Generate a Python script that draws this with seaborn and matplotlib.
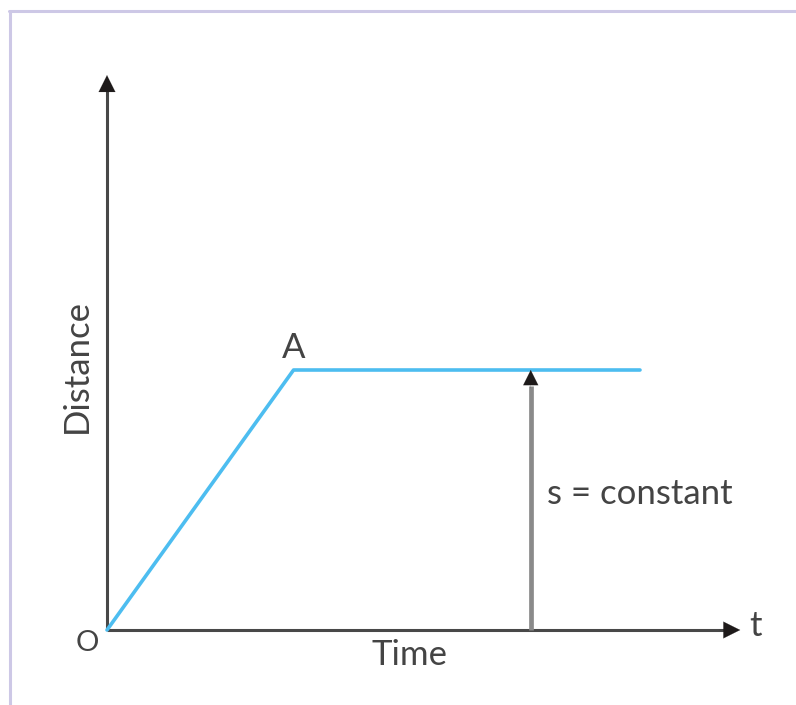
import matplotlib
matplotlib.use("Agg")
import matplotlib.pyplot as plt
import seaborn as sns
from matplotlib.lines import Line2D

sns.set_theme(style="white")
plt.rcParams['font.family'] = ['Lato', 'DejaVu Sans']

# distance-time graph: rises to A, then stays constant
time = [0, 3.5, 10]
distance = [0, 5, 5]
point_label = "A"
s_time = 7.95          # where the "s = constant" arrow stands
x_end, y_end = 11.88, 10.67  # axis arrow tips

fig = plt.figure(figsize=(7.96, 7.05), dpi=100)
ax = fig.add_axes([0, 0, 1, 1])
ax.set_xlim(-107 / 53.3, (796 - 107) / 53.3)
ax.set_ylim(-(705 - 630) / 52, 630 / 52)
ax.axis("off")

axis_col = "#484848"
head_col = "#1e1a1a"
txt_col = "#444444"

# axes: line, then black arrow head
ax.plot([0, x_end - 0.3], [0, 0], color=axis_col, lw=2.2, solid_capstyle="butt")
ax.plot([0, 0], [0, y_end - 0.3], color=axis_col, lw=2.2, solid_capstyle="butt")
head = dict(arrowstyle="-|>,head_length=1.0,head_width=0.5",
            color=head_col, lw=0.1, shrinkA=0, shrinkB=0)
ax.annotate("", xy=(x_end, 0), xytext=(x_end - 0.4, 0), arrowprops=head)
ax.annotate("", xy=(0, y_end), xytext=(0, y_end - 0.4), arrowprops=head)

# the graph
sns.lineplot(x=time, y=distance, ax=ax, color="#4dbdf0", lw=2.6, sort=False)

# s = constant arrow
ax.plot([s_time, s_time], [0, distance[-1] - 0.3], color="#8a8a8a", lw=3.4,
        solid_capstyle="butt")
ax.annotate("", xy=(s_time, distance[-1]), xytext=(s_time, distance[-1] - 0.35),
            arrowprops=dict(arrowstyle="-|>,head_length=0.9,head_width=0.45",
                            color=head_col, lw=0.1, shrinkA=0, shrinkB=0))

fs = 25
ax.text(time[1], distance[1] + 0.12, point_label, ha="center", va="bottom",
        fontsize=fs, color=txt_col)
ax.text(-0.36, -0.25, "O", ha="center", va="center", fontsize=fs - 4,
        color=txt_col)
ax.text((410 - 107) / 53.3, -0.48, "Time", ha="center", va="center",
        fontsize=fs, color=txt_col)
ax.text(-0.56, (630 - 366) / 52, "Distance", ha="center", va="center",
        rotation=90, fontsize=fs, color=txt_col)
ax.text(s_time + 0.3, (630 - 494) / 52, "s = constant", ha="left", va="center",
        fontsize=fs, color=txt_col)
ax.text(12.17, 0.08, "t", ha="center", va="center", fontsize=fs,
        color=txt_col)

# light frame at top and left
fig.add_artist(Line2D([9 / 796, 1], [1 - 11 / 705, 1 - 11 / 705],
                      color="#cdc8e6", lw=2.2, transform=fig.transFigure))
fig.add_artist(Line2D([10 / 796, 10 / 796], [0, 1 - 11 / 705],
                      color="#cdc8e6", lw=2.2, transform=fig.transFigure))

fig.savefig("out.png", dpi=100)
